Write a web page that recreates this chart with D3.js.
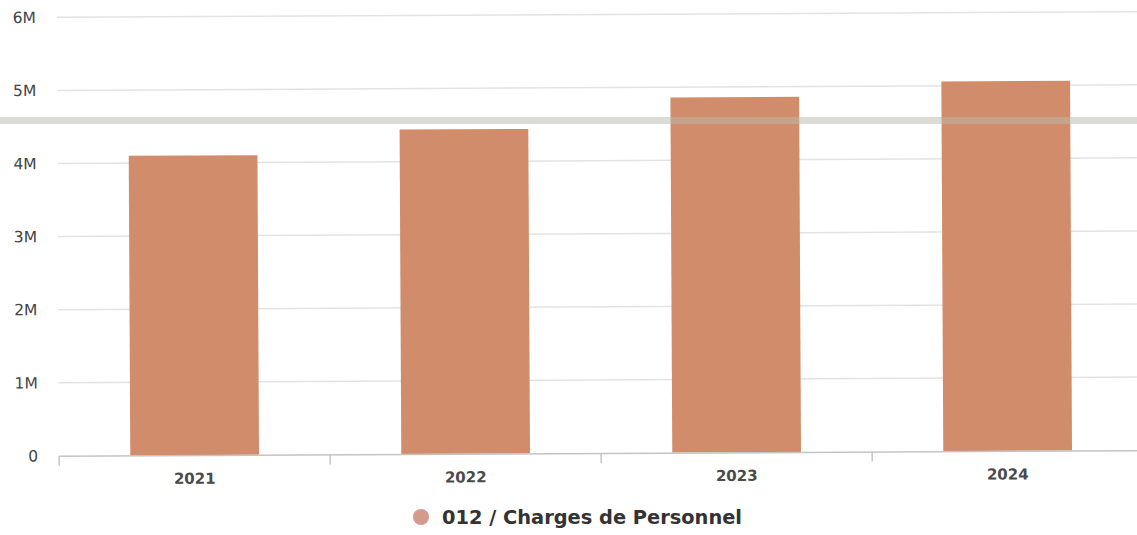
<!DOCTYPE html>
<html>
<head>
<meta charset="utf-8">
<script src="https://cdn.jsdelivr.net/npm/d3@7"></script>
<style>
  html, body { margin: 0; padding: 0; background: #fff; }
  svg { display: block; }
  text { font-family: "DejaVu Sans", Verdana, sans-serif; }
</style>
</head>
<body>
<svg id="chart" width="1137" height="535"></svg>
<script>
// Personnel expenses by year (chapter 012)
const years = ["2021", "2022", "2023", "2024"];
const values = [4100000, 4440000, 4860000, 5060000];
const yTicks = [0, 1000000, 2000000, 3000000, 4000000, 5000000, 6000000];
const tickLabels = ["0", "1M", "2M", "3M", "4M", "5M", "6M"];
const seriesName = "012 / Charges de Personnel";

const W = 1137, H = 535;
const plot = { left: 58, right: 1142, top: 14.5, bottom: 453 };
const barColor = "#d08c6b";

const svg = d3.select("#chart");
const g = svg.append("g").attr("transform", "rotate(-0.3, 600, 235)");

const x = d3.scaleBand()
  .domain(years)
  .range([plot.left, plot.right])
  .paddingInner(0.525)
  .paddingOuter(0.2625);

const y = d3.scaleLinear()
  .domain([0, 6000000])
  .range([plot.bottom, plot.top]);

// horizontal grid
g.append("g")
  .selectAll("line")
  .data(yTicks.slice(1))
  .join("line")
  .attr("x1", plot.left)
  .attr("x2", plot.right)
  .attr("y1", d => y(d))
  .attr("y2", d => y(d))
  .attr("stroke", "#e3e3e3")
  .attr("stroke-width", 1.5);

// y labels
const yAxis = d3.axisLeft(y)
  .tickValues(yTicks)
  .tickFormat((d, i) => tickLabels[i])
  .tickSize(0)
  .tickPadding(0);
const ya = g.append("g")
  .attr("transform", `translate(37,0)`)
  .call(yAxis);
ya.select(".domain").remove();
ya.selectAll("text")
  .attr("fill", "#444")
  .style("font-size", "15.5px")
  .style("font-family", "'DejaVu Sans', Verdana, sans-serif");

// bars
g.append("g")
  .selectAll("rect")
  .data(values)
  .join("rect")
  .attr("x", (d, i) => x(years[i]))
  .attr("width", x.bandwidth())
  .attr("y", d => y(d))
  .attr("height", d => y(0) - y(d))
  .attr("fill", barColor);

// x axis
const xAxis = d3.axisBottom(x).tickSize(0).tickPadding(18);
const xa = g.append("g")
  .attr("transform", `translate(0,${plot.bottom})`)
  .call(xAxis);
xa.select(".domain").attr("stroke", "#c4c4c4").attr("stroke-width", 1.5);
xa.selectAll("text")
  .attr("fill", "#4a4a4a")
  .style("font-size", "15px")
  .style("font-weight", "bold")
  .style("font-family", "'DejaVu Sans', Verdana, sans-serif");
// band separators on the x axis
const bounds = years.map(d => x(d) - x.step() * x.paddingInner() / 2);
xa.append("g")
  .selectAll("line")
  .data(bounds)
  .join("line")
  .attr("x1", d => d).attr("x2", d => d)
  .attr("y1", 0).attr("y2", 10)
  .attr("stroke", "#c4c4c4")
  .attr("stroke-width", 1.5);

// legend
const legend = svg.append("g").attr("transform", "translate(421,517)");
legend.append("circle").attr("r", 8).attr("fill", "#d39a8d");
legend.append("text")
  .attr("x", 21)
  .attr("y", 6.5)
  .attr("fill", "#333")
  .attr("textLength", 300)
  .attr("lengthAdjust", "spacingAndGlyphs")
  .style("font-size", "19px")
  .style("font-weight", "bold")
  .text(seriesName);

// faint horizontal band across the sheet
svg.append("rect")
  .attr("x", 0).attr("width", W)
  .attr("y", 117).attr("height", 7)
  .attr("fill", "rgba(185,185,175,0.5)");
</script>
</body>
</html>
